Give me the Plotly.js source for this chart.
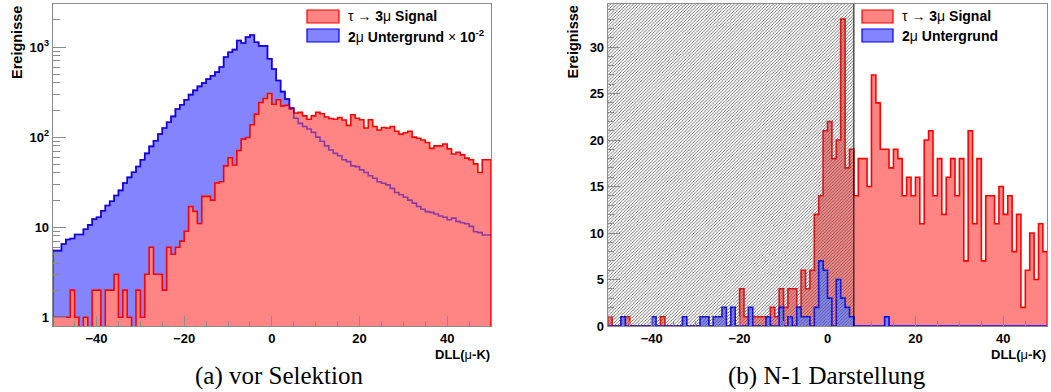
<!DOCTYPE html>
<html>
<head>
<meta charset="utf-8">
<script src="https://cdn.plot.ly/plotly-3.0.1.min.js"></script>
<style>
html,body{margin:0;padding:0;background:#fff;}
#chart{width:1051px;height:392px;}
</style>
</head>
<body>
<div id="chart"></div>
<script>
// ---------------- DATA ----------------
// DLL(mu-K) histogram binning: 100 bins of width 1 from -50 to 50
const dllLow = -50;
const dllHigh = 50;

// (a) vor Selektion – tau -> 3mu signal (events per bin)
const signalBefore = [
  1, 1, 1, 1, 2, 1, 0, 1, 0, 2,
  2, 0, 2, 2, 3, 1, 2, 1, 0, 2,
  1, 3, 6, 3, 3, 2, 6, 5, 6, 7,
  9, 17, 15, 11, 22, 22, 20, 31, 32, 48,
  59, 49, 71, 95, 99, 137, 180, 242, 268, 305,
  232, 260, 222, 226, 205, 185, 188, 172, 158, 172,
  188, 182, 167, 161, 158, 165, 155, 135, 177, 162,
  156, 126, 156, 131, 120, 128, 126, 131, 116, 108,
  112, 116, 100, 97, 93, 87, 75, 80, 80, 84,
  74, 65, 68, 63.5, 58.5, 56, 50.5, 40.5, 56, 56
];

// (a) vor Selektion – 2mu background, scaled by 10^-2
const backgroundBefore = [
  5.5, 5.5, 6.5, 7.3, 7.5, 8.3, 8.3, 9.5, 10.6, 12.3,
  12.9, 15.2, 17.4, 19.4, 22.5, 25.6, 30.9, 35.7, 40.8, 47.2,
  56, 66, 79, 91, 108, 126, 146, 170, 205, 229,
  260, 296, 330, 366, 398, 440, 480, 527, 600, 775,
  875, 937, 1180, 1110, 1290, 1360, 1130, 1030, 1030, 740,
  570, 425, 320, 264, 210, 162, 142, 131, 123, 113,
  100, 90, 80, 72, 66, 62, 56, 53.5, 48, 47,
  43.3, 40.5, 37.2, 35, 32, 30.8, 29.5, 27, 24.3, 22.9,
  21.5, 20, 18.5, 17, 15.8, 14.9, 14.6, 14, 13.3, 12.9,
  12.1, 12.6, 11.6, 11.2, 10.9, 10.2, 8.9, 8.7, 8.2, 8.2
];

// (b) N-1 Darstellung – tau -> 3mu signal
const signalNminus1 = [
  1, 0, 0, 0, 1, 0, 0, 0, 0, 0,
  0, 0, 1, 0, 0, 0, 0, 0, 0, 0,
  0, 0, 1, 0, 0, 0, 0, 0, 0, 0,
  4, 1, 1, 1, 1, 1, 1, 2, 1, 4,
  2, 4, 4, 2, 6, 4, 6, 12, 14, 21,
  22, 18, 20, 33, 17, 19, 14, 18, 18, 15,
  27, 24, 19, 19, 17, 19, 18, 14, 16, 14,
  16, 11, 20, 21, 14, 18, 12, 16, 18, 14,
  18, 7, 21, 11, 18, 7, 14, 14, 11, 15,
  12, 14, 8, 12, 2, 6, 10, 5, 11, 8
];

// (b) N-1 Darstellung – 2mu background
const backgroundNminus1 = [
  0, 0, 0, 1, 0, 0, 0, 0, 0, 0,
  1, 0, 0, 0, 0, 0, 0, 1, 0, 0,
  0, 1, 1, 0, 1, 1, 2, 0, 2, 0,
  0, 0, 2, 0, 0, 0, 1, 0, 0, 2,
  0, 1, 0, 2, 1, 1, 0, 2, 7, 6,
  3, 0, 5, 3, 2, 1, 0, 0, 0, 0,
  0, 0, 0, 1, 0, 0, 0, 0, 0, 0,
  0, 0, 0, 0, 0, 0, 0, 0, 0, 0,
  0, 0, 0, 0, 0, 0, 0, 0, 0, 0,
  0, 0, 0, 0, 0, 0, 0, 0, 0, 0
];

// selection cut on DLL(mu-K) (events left of the cut are rejected)
const dllCut = 6;

// tick labels
const logTickVals = [1, 10, 100, 1000];
const logTickText = ['1', '10', '10<sup>2</sup>', '10<sup>3</sup>'];
const xTickVals = [-40, -20, 0, 20, 40];

const signalLabel = 'τ → <b>3</b>μ<b> Signal</b>';
const backgroundLabelA = '<b>2</b>μ<b> Untergrund </b>× <b>10<sup>-2</sup></b>';
const backgroundLabelB = '<b>2</b>μ<b> Untergrund</b>';
const yTitle = '<b>Ereignisse</b>';
const xTitle = '<b>DLL(</b>μ<b>-K)</b>';
const captionA = '(a) vor Selektion';
const captionB = '(b) N-1 Darstellung';

// ---------------- BUILD ----------------
const W = 1051, H = 392;
const nb = signalBefore.length;
const bw = (dllHigh - dllLow) / nb;
const edges = [];
for (let i = 0; i <= nb; i++) edges.push(dllLow + i * bw);

function closedStep(vals, floor) {
  const x = [dllLow], y = [floor];
  for (let i = 0; i < vals.length; i++) { x.push(edges[i]); y.push(vals[i] > 0 ? vals[i] : floor); }
  x.push(dllHigh); y.push(vals[vals.length - 1] > 0 ? vals[vals.length - 1] : floor);
  x.push(dllHigh); y.push(floor);
  return {x, y};
}
function openStep(vals, floor) {
  const x = [], y = [];
  for (let i = 0; i < vals.length; i++) { x.push(edges[i]); y.push(vals[i] > 0 ? vals[i] : floor); }
  x.push(dllHigh); y.push(vals[vals.length - 1] > 0 ? vals[vals.length - 1] : floor);
  return {x, y};
}

const RED_FILL = '#ff8484', RED_LINE = '#ff0000';
const BLUE_FILL = '#8484ff', BLUE_LINE = '#0000ff';
const LOGFLOOR = 0.01;

const bA = closedStep(backgroundBefore, LOGFLOOR);
const sA = closedStep(signalBefore, LOGFLOOR);
const bAline = openStep(backgroundBefore, LOGFLOOR);
const sB = closedStep(signalNminus1, 0);
const bB = closedStep(backgroundNminus1, 0);

const yMaxB = 1.05 * Math.max(...signalNminus1);

const traces = [
  {x: bA.x, y: bA.y, xaxis: 'x', yaxis: 'y', mode: 'lines', line: {shape: 'hv', color: BLUE_LINE, width: 1.6},
   fill: 'toself', fillcolor: BLUE_FILL, hoverinfo: 'skip', showlegend: false},
  {x: sA.x, y: sA.y, xaxis: 'x', yaxis: 'y', mode: 'lines', line: {shape: 'hv', color: RED_LINE, width: 1.6},
   fill: 'toself', fillcolor: RED_FILL, hoverinfo: 'skip', showlegend: false},
  {x: bAline.x, y: bAline.y, xaxis: 'x', yaxis: 'y', mode: 'lines', line: {shape: 'hv', color: 'rgba(40,0,190,0.55)', width: 1.6},
   hoverinfo: 'skip', showlegend: false},
  {x: sB.x, y: sB.y, xaxis: 'x2', yaxis: 'y2', mode: 'lines', line: {shape: 'hv', color: RED_LINE, width: 1.6},
   fill: 'toself', fillcolor: RED_FILL, hoverinfo: 'skip', showlegend: false},
  {x: bB.x, y: bB.y, xaxis: 'x2', yaxis: 'y2', mode: 'lines', line: {shape: 'hv', color: BLUE_LINE, width: 1.6},
   fill: 'toself', fillcolor: BLUE_FILL, hoverinfo: 'skip', showlegend: false},
  {x: [dllLow, dllCut, dllCut, dllLow, dllLow], y: [0, 0, yMaxB, yMaxB, 0], xaxis: 'x2', yaxis: 'y2',
   mode: 'lines', line: {width: 0, color: 'rgba(0,0,0,0)'}, fill: 'toself', fillcolor: 'rgba(0,0,0,0)',
   fillpattern: {shape: '/', size: 2.3, solidity: 0.35, fgcolor: '#555555', bgcolor: 'rgba(0,0,0,0)'},
   hoverinfo: 'skip', showlegend: false}
];

const FONT = 'Liberation Sans, Arial, Helvetica, sans-serif';
const GRAY = '#8c8c8c';

const minorLog = [];
for (let d = 1; d <= 1000; d *= 10) for (let k = 2; k <= 9; k++) if (k * d < 3100) minorLog.push(k * d);

function xAxisDef(domain, anchor) {
  return {domain, anchor, range: [dllLow, dllHigh], tickvals: xTickVals, ticks: 'inside', ticklen: 10,
    tickcolor: GRAY, tickwidth: 1, showline: true, linecolor: GRAY, linewidth: 1, mirror: true,
    showgrid: false, zeroline: false, tickfont: {family: FONT, size: 13, color: '#000', weight: 700},
    minor: {dtick: 5, ticks: 'inside', ticklen: 5, tickcolor: GRAY, showgrid: false}, fixedrange: true};
}

const yDomain = [1 - 326 / H, 1 - 3.8 / H];
const layout = {
  width: W, height: H, margin: {l: 0, r: 0, t: 0, b: 0}, paper_bgcolor: '#fff', plot_bgcolor: '#fff',
  showlegend: false,
  xaxis: xAxisDef([52.7 / W, 491 / W], 'y'),
  yaxis: {domain: yDomain, anchor: 'x', type: 'log', range: [Math.log10(0.8), 3.48],
    tickvals: logTickVals, ticktext: logTickText, ticks: 'inside', ticklen: 13, tickcolor: GRAY,
    showline: true, linecolor: GRAY, mirror: true, showgrid: false, zeroline: false,
    tickfont: {family: FONT, size: 13, color: '#000', weight: 700},
    minor: {tickvals: minorLog, ticks: 'inside', ticklen: 7, tickcolor: GRAY, showgrid: false}, fixedrange: true},
  xaxis2: xAxisDef([607.7 / W, 1047.3 / W], 'y2'),
  yaxis2: {domain: yDomain, anchor: 'x2', range: [0, yMaxB], dtick: 5, tick0: 0, ticks: 'inside', ticklen: 12,
    tickcolor: GRAY, showline: true, linecolor: GRAY, mirror: true, showgrid: false, zeroline: false,
    tickfont: {family: FONT, size: 13, color: '#000', weight: 700},
    minor: {dtick: 1, ticks: 'inside', ticklen: 6, tickcolor: GRAY, showgrid: false}, fixedrange: true},
  shapes: [
    {type: 'line', xref: 'x2', yref: 'y2 domain', x0: dllCut, x1: dllCut, y0: 0, y1: 1, line: {color: '#000', width: 1}, layer: 'above'},
    // legend swatches (a)
    {type: 'rect', xref: 'paper', yref: 'paper', x0: 307 / W, x1: 339 / W, y0: 1 - 23 / H, y1: 1 - 10 / H, fillcolor: RED_FILL, line: {color: RED_LINE, width: 1.2}},
    {type: 'rect', xref: 'paper', yref: 'paper', x0: 307 / W, x1: 339 / W, y0: 1 - 42 / H, y1: 1 - 29 / H, fillcolor: BLUE_FILL, line: {color: BLUE_LINE, width: 1.2}},
    // legend swatches (b)
    {type: 'rect', xref: 'paper', yref: 'paper', x0: 862 / W, x1: 893 / W, y0: 1 - 23 / H, y1: 1 - 10 / H, fillcolor: RED_FILL, line: {color: RED_LINE, width: 1.2}},
    {type: 'rect', xref: 'paper', yref: 'paper', x0: 862 / W, x1: 893 / W, y0: 1 - 42 / H, y1: 1 - 29 / H, fillcolor: BLUE_FILL, line: {color: BLUE_LINE, width: 1.2}}
  ],
  annotations: [
    {text: signalLabel, xref: 'paper', yref: 'paper', x: 346 / W, y: 1 - 16.5 / H, xanchor: 'left', yanchor: 'middle', showarrow: false, font: {family: FONT, size: 14, color: '#000'}},
    {text: backgroundLabelA, xref: 'paper', yref: 'paper', x: 346 / W, y: 1 - 35.5 / H, xanchor: 'left', yanchor: 'middle', showarrow: false, font: {family: FONT, size: 14, color: '#000'}},
    {text: signalLabel, xref: 'paper', yref: 'paper', x: 900 / W, y: 1 - 16.5 / H, xanchor: 'left', yanchor: 'middle', showarrow: false, font: {family: FONT, size: 14, color: '#000'}},
    {text: backgroundLabelB, xref: 'paper', yref: 'paper', x: 900 / W, y: 1 - 35.5 / H, xanchor: 'left', yanchor: 'middle', showarrow: false, font: {family: FONT, size: 14, color: '#000'}},
    {text: yTitle, xref: 'paper', yref: 'paper', x: 16.5 / W, y: 1 - 4 / H, xanchor: 'center', yanchor: 'top', textangle: -90, showarrow: false, font: {family: FONT, size: 14.5, color: '#000'}},
    {text: yTitle, xref: 'paper', yref: 'paper', x: 572 / W, y: 1 - 4 / H, xanchor: 'center', yanchor: 'top', textangle: -90, showarrow: false, font: {family: FONT, size: 14.5, color: '#000'}},
    {text: xTitle, xref: 'paper', yref: 'paper', x: 492 / W, y: 1 - 354 / H, xanchor: 'right', yanchor: 'middle', showarrow: false, font: {family: FONT, size: 13, color: '#000'}},
    {text: xTitle, xref: 'paper', yref: 'paper', x: 1048 / W, y: 1 - 354 / H, xanchor: 'right', yanchor: 'middle', showarrow: false, font: {family: FONT, size: 13, color: '#000'}},
    {text: captionA, xref: 'paper', yref: 'paper', x: 279 / W, y: 1 - 376 / H, xanchor: 'center', yanchor: 'middle', showarrow: false, font: {family: 'Liberation Serif, Times New Roman, serif', size: 25, color: '#000'}},
    {text: captionB, xref: 'paper', yref: 'paper', x: 827 / W, y: 1 - 376 / H, xanchor: 'center', yanchor: 'middle', showarrow: false, font: {family: 'Liberation Serif, Times New Roman, serif', size: 25, color: '#000'}}
  ]
};

Plotly.newPlot('chart', traces, layout, {staticPlot: true, displayModeBar: false});
</script>
</body>
</html>
